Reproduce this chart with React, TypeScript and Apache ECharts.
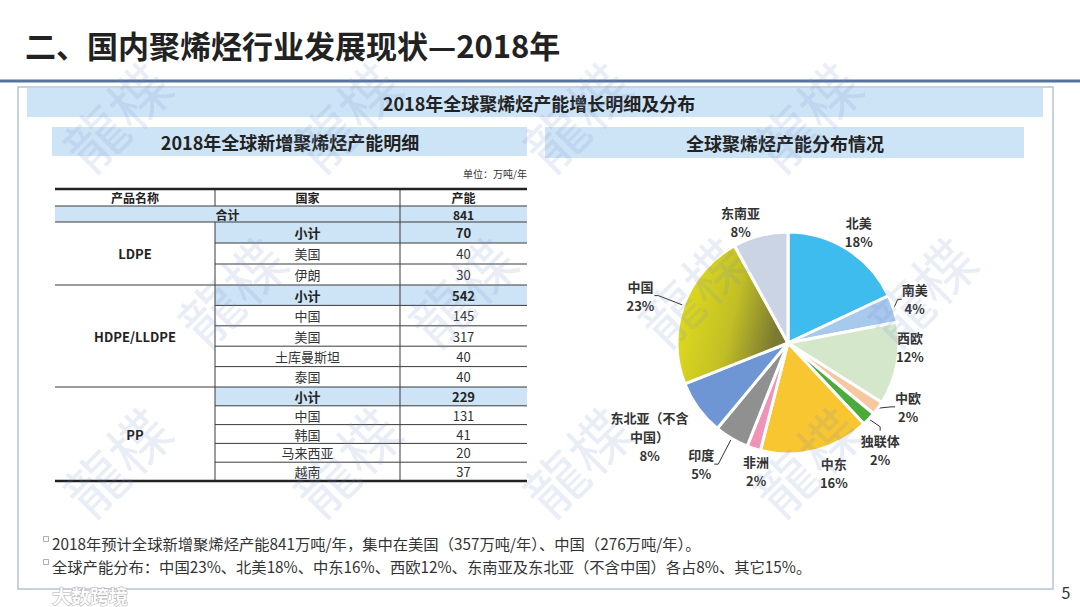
import React, { useEffect, useRef } from 'react';
import * as echarts from 'echarts';

// ---------- content ----------
const pageTitle = '二、国内聚烯烃行业发展现状—2018年';
const bannerTitle = '2018年全球聚烯烃产能增长明细及分布';
const tableTitle = '2018年全球新增聚烯烃产能明细';
const pieTitle = '全球聚烯烃产能分布情况';
const unitNote = '单位：万吨/年';
const tableHeader = ['产品名称', '国家', '产能'];
const totalLabel = '合计';
const totalValue = 841;
const subtotalLabel = '小计';
const productNames = ['LDPE', 'HDPE/LLDPE', 'PP'];
const subtotalValues = [70, 542, 229];
const ldpeCountries = ['美国', '伊朗'];
const ldpeValues = [40, 30];
const hdpeCountries = ['中国', '美国', '土库曼斯坦', '泰国'];
const hdpeValues = [145, 317, 40, 40];
const ppCountries = ['中国', '韩国', '马来西亚', '越南'];
const ppValues = [131, 41, 20, 37];

const regionNames = ['北美', '南美', '西欧', '中欧', '独联体', '中东', '非洲', '印度', '东北亚（不含中国）', '中国', '东南亚'];
const regionShares = [18, 4, 12, 2, 2, 16, 2, 5, 8, 23, 8];

const footerLines = [
  '2018年预计全球新增聚烯烃产能841万吨/年，集中在美国（357万吨/年）、中国（276万吨/年）。',
  '全球产能分布：中国23%、北美18%、中东16%、西欧12%、东南亚及东北亚（不含中国）各占8%、其它15%。',
];
const pageNumber = '5';
const brandMark = '大数跨境';
const watermarkText = '龍楪';

// ---------- layout / style ----------
const FONT = '"Noto Sans CJK SC", "Noto Sans", sans-serif';
const COLS = [55, 215, 400, 527];
const TABLE_TOP = 189;
const HEADER_H = 17;
const TOTAL_H = 16;
const GROUP_ROW_H = [21, 20.4, 18.8];
const BLUE = '#cde4f6';
const LINE = '#3a3a3a';

const PIE_CX = 788;
const PIE_CY = 343;
const PIE_R = 111;
const sliceColors: any[] = [
  '#3ebcee', '#a7c9ee', '#d4e7cb', '#f6c8a2', '#4aaa3a', '#f8c630', '#ee94b9', '#909090', '#6e95d4',
  {
    type: 'linear', x: 0, y: 0, x2: 1, y2: 0.3,
    colorStops: [{ offset: 0, color: '#e8e41c' }, { offset: 0.6, color: '#c2bf25' }, { offset: 1, color: '#7a7832' }],
  },
  '#cbd4e4',
];
const labelExtra = [21, 23, 11, 25, 30, 27, 21, 38, 56, 44, 19];
const labelShift = [0, 1, 9, 8, -6, 5, 4, -5, -2, 2, 7];
const withLine = [1, 3, 4, 7, 9];

function txt(x: number, y: number, text: string, size: number, opts: any = {}) {
  return {
    type: 'text',
    x,
    y,
    silent: true,
    z: opts.z ?? 10,
    rotation: opts.rotation ?? 0,
    style: {
      text,
      fill: opts.fill ?? '#222',
      font: `${opts.weight ?? 'normal'} ${size}px ${FONT}`,
      align: opts.align ?? 'center',
      verticalAlign: 'middle',
      textAlign: opts.align ?? 'center',
      textVerticalAlign: 'middle',
      stroke: opts.stroke,
      lineWidth: opts.lineWidth,
    },
  };
}
function rect(x: number, y: number, w: number, h: number, style: any, z = 1) {
  return { type: 'rect', shape: { x, y, width: w, height: h }, style, silent: true, z };
}
function line(x1: number, y1: number, x2: number, y2: number, w = 1, color = LINE, z = 5) {
  return { type: 'line', shape: { x1, y1, x2, y2 }, style: { stroke: color, lineWidth: w }, silent: true, z };
}

function buildTable() {
  const els: any[] = [];
  const c = (i: number) => (COLS[i] + COLS[i + 1]) / 2;
  let y = TABLE_TOP;
  // header
  els.push(txt(c(0), y + HEADER_H / 2, tableHeader[0], 12, { weight: 'bold' }));
  els.push(txt(c(1), y + HEADER_H / 2, tableHeader[1], 12, { weight: 'bold' }));
  els.push(txt(c(2), y + HEADER_H / 2, tableHeader[2], 12, { weight: 'bold' }));
  y += HEADER_H;
  els.push(line(COLS[0], y, COLS[3], y, 1));
  // total
  els.push(rect(COLS[0], y, COLS[3] - COLS[0], TOTAL_H, { fill: BLUE }));
  els.push(txt((COLS[0] + COLS[2]) / 2, y + TOTAL_H / 2, totalLabel, 12, { weight: 'bold' }));
  els.push(txt(c(2), y + TOTAL_H / 2, String(totalValue), 12, { weight: 'bold' }));
  els.push(line(COLS[2], y, COLS[2], y + TOTAL_H, 1));
  y += TOTAL_H;
  els.push(line(COLS[0], y, COLS[3], y, 1));

  const groups = [
    { name: productNames[0], sub: subtotalValues[0], cs: ldpeCountries, vs: ldpeValues },
    { name: productNames[1], sub: subtotalValues[1], cs: hdpeCountries, vs: hdpeValues },
    { name: productNames[2], sub: subtotalValues[2], cs: ppCountries, vs: ppValues },
  ];
  groups.forEach((g, gi) => {
    const h = GROUP_ROW_H[gi];
    const rows = g.cs.length + 1;
    const gTop = y;
    const gH = rows * h;
    els.push(txt(c(0), gTop + gH / 2, g.name, 13, { weight: 'bold' }));
    // subtotal row
    els.push(rect(COLS[1], y, COLS[3] - COLS[1], h, { fill: BLUE }));
    els.push(txt(c(1), y + h / 2, subtotalLabel, 13, { weight: 'bold' }));
    els.push(txt(c(2), y + h / 2, String(g.sub), 13, { weight: 'bold' }));
    y += h;
    g.cs.forEach((name, i) => {
      els.push(line(COLS[1], y, COLS[3], y, 1));
      els.push(txt(c(1), y + h / 2, name, 13, { fill: '#333' }));
      els.push(txt(c(2), y + h / 2, String(g.vs[i]), 13, { fill: '#333' }));
      y += h;
    });
    els.push(line(COLS[1], gTop, COLS[1], y, 1));
    els.push(line(COLS[2], gTop, COLS[2], y, 1));
    if (gi < groups.length - 1) els.push(line(COLS[0], y, COLS[3], y, 1));
  });
  // header verticals
  els.push(line(COLS[1], TABLE_TOP, COLS[1], TABLE_TOP + HEADER_H, 1));
  els.push(line(COLS[2], TABLE_TOP, COLS[2], TABLE_TOP + HEADER_H, 1));
  // thick top/bottom rules
  els.push(line(COLS[0], TABLE_TOP, COLS[3], TABLE_TOP, 2.5, '#222', 6));
  els.push(line(COLS[0], y, COLS[3], y, 2.5, '#222', 6));
  return els;
}

function buildWatermarks() {
  const els: any[] = [];
  const ys = [115, 290, 460];
  ys.forEach((wy, r) => {
    for (let k = 0; k < 5; k++) {
      const wx = 115 + k * 230 + (r % 2) * 115;
      if (wx > 975) continue;
      els.push(
        txt(wx, wy, watermarkText, 60, {
          fill: 'rgba(120,142,196,0.16)',
          rotation: Math.PI / 4,
          z: 100,
        })
      );
    }
  });
  return els;
}

const total = regionShares.reduce((a, b) => a + b, 0);
const cumStart: number[] = [];
regionShares.reduce((acc, v, i) => {
  cumStart[i] = acc;
  return acc + v;
}, 0);

export default function App() {
  const ref = useRef<HTMLDivElement>(null);
  useEffect(() => {
    if (!ref.current) return;
    const chart = echarts.init(ref.current, undefined, { renderer: 'svg' });
    const graphics: any[] = [
      txt(25, 44, pageTitle, 31, { weight: 'bold', align: 'left', fill: '#222' }),
      line(0, 81, 1080, 81, 3, '#56739c', 5),
      rect(18, 87, 1035, 502, { fill: 'none', stroke: '#b4c3d6', lineWidth: 1.5 }, 0),
      rect(27, 88, 1016, 29, { fill: BLUE }),
      txt(539, 103, bannerTitle, 18, { weight: 'bold' }),
      rect(52, 127, 475, 29, { fill: BLUE }),
      txt(290, 142, tableTitle, 18, { weight: 'bold' }),
      rect(545, 127, 479, 31, { fill: BLUE }),
      txt(785, 143, pieTitle, 18, { weight: 'bold' }),
      txt(527, 173, unitNote, 10, { align: 'right', fill: '#333' }),
      ...buildTable(),
      ...footerLines.map((t, i) => txt(52, 543 + i * 23, t, 15.3, { align: 'left', fill: '#333' })),
      ...footerLines.map((_, i) =>
        rect(43.5, 536.5 + i * 23, 5, 5, { fill: 'none', stroke: '#999', lineWidth: 0.8 }, 2)
      ),
      txt(1066, 592, pageNumber, 16, { fill: '#333' }),
      txt(52, 595, brandMark, 19, {
        align: 'left',
        weight: 'bold',
        fill: 'rgba(255,255,255,0.95)',
        stroke: 'rgba(150,150,150,0.8)',
        lineWidth: 1,
        z: 90,
      }),
      ...buildWatermarks(),
    ];

    chart.setOption({
      animation: false,
      backgroundColor: '#ffffff',
      graphic: { elements: graphics },
      series: [
        {
          type: 'pie',
          center: [PIE_CX, PIE_CY],
          radius: PIE_R,
          startAngle: 90,
          clockwise: true,
          avoidLabelOverlap: false,
          itemStyle: { borderColor: '#ffffff', borderWidth: 3 },
          label: {
            show: true,
            position: 'outside',
            color: '#333',
            fontSize: 13,
            fontWeight: 'bold',
            fontFamily: FONT,
            lineHeight: 19,
            formatter: (p: any) => `${String(p.name).replace('（不含', '（不含\n')}\n${p.value}%`,
          },
          labelLine: { show: false, length: 8, length2: 4, lineStyle: { color: '#333', width: 1 } },
          labelLayout: (params: any) => {
            const i = params.dataIndex;
            const mid = 90 - ((cumStart[i] + regionShares[i] / 2) / total) * 360 + labelShift[i];
            const r = PIE_R + labelExtra[i];
            const a = (mid * Math.PI) / 180;
            return {
              x: PIE_CX + r * Math.cos(a),
              y: PIE_CY - r * Math.sin(a),
              align: 'center',
              verticalAlign: 'middle',
            };
          },
          data: regionNames.map((n, i) => ({
            name: n,
            value: regionShares[i],
            itemStyle: { color: sliceColors[i] },
            labelLine: { show: withLine.includes(i) },
          })),
        },
      ],
    });
    return () => chart.dispose();
  }, []);
  return (
    <div
      ref={ref}
      style={{ position: 'fixed', left: 0, top: 0, width: 1080, height: 607, background: '#fff' }}
    />
  );
}
